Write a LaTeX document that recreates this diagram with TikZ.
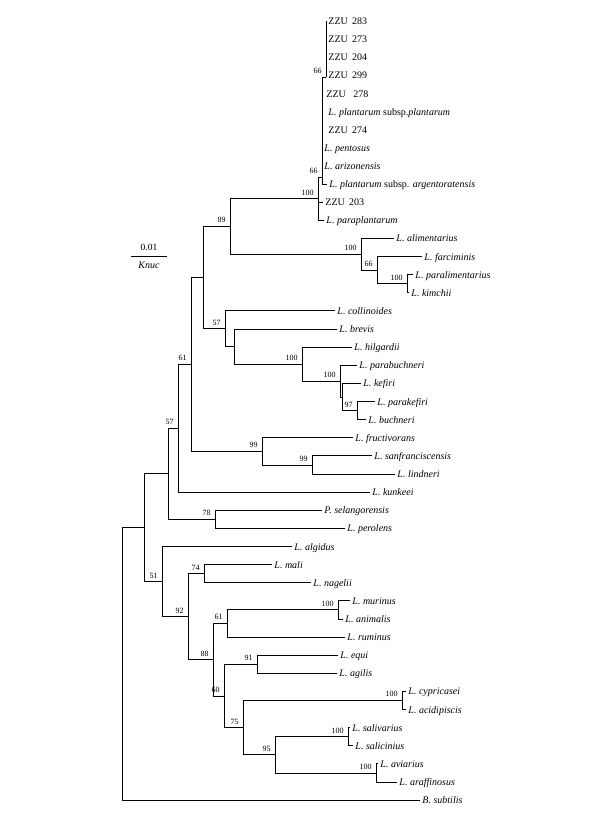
\documentclass[tikz,border=0pt]{standalone}
\usepackage{fontspec}
\setmainfont{Liberation Serif}
\usetikzlibrary{positioning}
\tikzset{
  branch/.style = {to path = {|- (\tikztotarget) \tikztonodes}},
  taxon/.style = {anchor = west, inner xsep = 2pt, inner ysep = 0pt,
    text height = 7pt, text depth = 0pt,
    font = \fontsize{10}{12}\selectfont\itshape},
  strain/.style = {taxon, font = \fontsize{10}{12}\selectfont},
  support/.style = {pos = 1, anchor = south east, inner sep = 0.5pt,
    xshift = -3.5pt, yshift = 2.5pt, font = \fontsize{8}{9}\selectfont},
  scaletext/.style = {inner sep = 0pt, font = \fontsize{9.5}{11}\selectfont},
}

\begin{document}
\begin{tikzpicture}[x = 1pt, y = -1pt, line width = 0.9pt]
    \useasboundingbox (0,0) rectangle (614,817);
    % scale bar
    \coordinate (bar0) at (131,256);
    \coordinate (bar1) at (167,256);
    \draw (bar0) -- (bar1);
    \node [scaletext] (barval) at (149,247) {0.01};
    \node [scaletext, font = \fontsize{10}{12}\selectfont\itshape] (barunit) at (149,265) {Knuc};
    % taxa
    \node [strain] (zzu283) at (326,21.0) {ZZU\ \,283};
    \node [strain] (zzu273) at (326,39.1) {ZZU\ \,273};
    \node [strain] (zzu204) at (326,57.2) {ZZU\ \,204};
    \node [strain] (zzu299) at (326,75.4) {ZZU\ \,299};
    \node [strain, inner xsep = 4pt] (zzu278) at (322,93.5) {ZZU\ \ \ 278};
    \node [taxon, inner xsep = 6pt] (plant) at (322,111.6) {L. plantarum \textup{subsp.}plantarum};
    \node [strain, inner xsep = 6pt] (zzu274) at (322,129.7) {ZZU\ \,274};
    \node [taxon] (pento) at (322,147.8) {L. pentosus};
    \node [taxon] (arizo) at (322,166.0) {L. arizonensis};
    \node [taxon] (argen) at (327,184.1) {L. plantarum \textup{subsp.} argentoratensis};
    \node [strain] (zzu203) at (323,202.2) {ZZU\ \,203};
    \node [taxon] (parapl) at (324,220.3) {L. paraplantarum};
    \node [taxon] (alim) at (394,238.4) {L. alimentarius};
    \node [taxon] (farc) at (422,256.6) {L. farciminis};
    \node [taxon] (paral) at (413,274.7) {L. paralimentarius};
    \node [taxon] (kimch) at (409,292.8) {L. kimchii};
    \node [taxon] (colli) at (335,310.9) {L. collinoides};
    \node [taxon] (brevi) at (337,329.0) {L. brevis};
    \node [taxon] (hilga) at (352,347.2) {L. hilgardii};
    \node [taxon] (parab) at (357,365.3) {L. parabuchneri};
    \node [taxon] (kefir) at (361,383.4) {L. kefiri};
    \node [taxon] (parak) at (375,401.5) {L. parakefiri};
    \node [taxon] (buchn) at (366,419.6) {L. buchneri};
    \node [taxon] (fruct) at (353,437.8) {L. fructivorans};
    \node [taxon] (sanfr) at (372,455.9) {L. sanfranciscensis};
    \node [taxon] (lindn) at (395,474.0) {L. lindneri};
    \node [taxon] (kunke) at (370,492.1) {L. kunkeei};
    \node [taxon] (selan) at (322,510.2) {P. selangorensis};
    \node [taxon] (perol) at (345,528.4) {L. perolens};
    \node [taxon] (algid) at (292,546.5) {L. algidus};
    \node [taxon] (mali) at (272,564.6) {L. mali};
    \node [taxon] (nagel) at (311,582.7) {L. nagelii};
    \node [taxon] (murin) at (350,600.8) {L. murinus};
    \node [taxon] (anima) at (343,619.0) {L. animalis};
    \node [taxon] (rumin) at (345,637.1) {L. ruminus};
    \node [taxon] (equi) at (338,655.2) {L. equi};
    \node [taxon] (agili) at (337,673.3) {L. agilis};
    \node [taxon] (cypri) at (406,691.4) {L. cypricasei};
    \node [taxon] (acidi) at (406,709.6) {L. acidipiscis};
    \node [taxon] (saliv) at (350,727.7) {L. salivarius};
    \node [taxon] (salic) at (353,745.8) {L. salicinius};
    \node [taxon] (aviar) at (378,763.9) {L. aviarius};
    \node [taxon] (araff) at (397,782.0) {L. araffinosus};
    \node [taxon] (subti) at (420,800.2) {B. subtilis};
    % internal nodes
    \coordinate (n66a) at (326,77);
    \coordinate (n66b) at (322,177);
    \coordinate (n100a) at (318,198.6);
    \coordinate (n89) at (230,226.4);
    \coordinate (n100b) at (361,254.3);
    \coordinate (n66c) at (377,270.2);
    \coordinate (n100c) at (407,283.8);
    \coordinate (npar) at (203,277.6);
    \coordinate (n57a) at (225,328.7);
    \coordinate (nbrev) at (234,346.6);
    \coordinate (n100d) at (302,364.2);
    \coordinate (n100e) at (340,381.1);
    \coordinate (nkef) at (342,397.0);
    \coordinate (n97) at (357,410.6);
    \coordinate (n61) at (191,364.5);
    \coordinate (n99a) at (262,451.4);
    \coordinate (n99b) at (312,465.0);
    \coordinate (n57b) at (178,428.3);
    \coordinate (nsel) at (168,473.8);
    \coordinate (n78) at (215,519.3);
    \coordinate (ningr) at (144,527.7);
    \coordinate (n51) at (162,581.6);
    \coordinate (n92) at (188,616.7);
    \coordinate (n74) at (204,573.7);
    \coordinate (n88) at (213,659.8);
    \coordinate (n61b) at (227,623.5);
    \coordinate (n100f) at (338,609.9);
    \coordinate (n60) at (224,696.0);
    \coordinate (n91) at (257,664.3);
    \coordinate (n75) at (243,727.7);
    \coordinate (n100g) at (402,700.5);
    \coordinate (n95) at (275,754.9);
    \coordinate (n100h) at (348,736.8);
    \coordinate (n100i) at (376,773.0);
    \coordinate (root) at (122,663.9);
    % branches
    \draw (n66a) edge [branch] (zzu283);
    \draw (n66a) edge [branch] (zzu273);
    \draw (n66a) edge [branch] (zzu204);
    \draw (n66a) edge [branch] (zzu299);
    \draw (n66b) edge [branch] node [support] (s66a) {66} (n66a);
    \draw (n66b) edge [branch] (zzu278);
    \draw (n66b) edge [branch] (plant);
    \draw (n66b) edge [branch] (zzu274);
    \draw (n66b) edge [branch] (pento);
    \draw (n66b) edge [branch] (arizo);
    \draw (n66b) edge [branch] (argen);
    \draw (n100a) edge [branch] node [support] (s66b) {66} (n66b);
    \draw (n100a) edge [branch] (zzu203);
    \draw (n100a) edge [branch] (parapl);
    \draw (n89) edge [branch] node [support] (s100a) {100} (n100a);
    \draw (n89) edge [branch] node [support] (s100b) {100} (n100b);
    \draw (n100b) edge [branch] (alim);
    \draw (n100b) edge [branch] node [support] (s66c) {66} (n66c);
    \draw (n66c) edge [branch] (farc);
    \draw (n66c) edge [branch] node [support] (s100c) {100} (n100c);
    \draw (n100c) edge [branch] (paral);
    \draw (n100c) edge [branch] (kimch);
    \draw (npar) edge [branch] node [support] (s89) {89} (n89);
    \draw (npar) edge [branch] node [support] (s57a) {57} (n57a);
    \draw (n57a) edge [branch] (colli);
    \draw (n57a) edge [branch] (nbrev);
    \draw (nbrev) edge [branch] (brevi);
    \draw (nbrev) edge [branch] node [support] (s100d) {100} (n100d);
    \draw (n100d) edge [branch] (hilga);
    \draw (n100d) edge [branch] node [support] (s100e) {100} (n100e);
    \draw (n100e) edge [branch] (parab);
    \draw (n100e) edge [branch] (nkef);
    \draw (nkef) edge [branch] (kefir);
    \draw (nkef) edge [branch] node [support] (s97) {97} (n97);
    \draw (n97) edge [branch] (parak);
    \draw (n97) edge [branch] (buchn);
    \draw (n61) edge [branch] (npar);
    \draw (n61) edge [branch] node [support] (s99a) {99} (n99a);
    \draw (n99a) edge [branch] (fruct);
    \draw (n99a) edge [branch] node [support] (s99b) {99} (n99b);
    \draw (n99b) edge [branch] (sanfr);
    \draw (n99b) edge [branch] (lindn);
    \draw (n57b) edge [branch] node [support] (s61) {61} (n61);
    \draw (n57b) edge [branch] (kunke);
    \draw (nsel) edge [branch] node [support] (s57b) {57} (n57b);
    \draw (nsel) edge [branch] node [support] (s78) {78} (n78);
    \draw (n78) edge [branch] (selan);
    \draw (n78) edge [branch] (perol);
    \draw (ningr) edge [branch] (nsel);
    \draw (ningr) edge [branch] node [support] (s51) {51} (n51);
    \draw (n51) edge [branch] (algid);
    \draw (n51) edge [branch] node [support] (s92) {92} (n92);
    \draw (n92) edge [branch] node [support] (s74) {74} (n74);
    \draw (n92) edge [branch] node [support] (s88) {88} (n88);
    \draw (n74) edge [branch] (mali);
    \draw (n74) edge [branch] (nagel);
    \draw (n88) edge [branch] node [support] (s61b) {61} (n61b);
    \draw (n88) edge [branch] node [support] (s60) {60} (n60);
    \draw (n61b) edge [branch] node [support] (s100f) {100} (n100f);
    \draw (n61b) edge [branch] (rumin);
    \draw (n100f) edge [branch] (murin);
    \draw (n100f) edge [branch] (anima);
    \draw (n60) edge [branch] node [support] (s91) {91} (n91);
    \draw (n60) edge [branch] node [support] (s75) {75} (n75);
    \draw (n91) edge [branch] (equi);
    \draw (n91) edge [branch] (agili);
    \draw (n75) edge [branch] node [support] (s100g) {100} (n100g);
    \draw (n75) edge [branch] node [support] (s95) {95} (n95);
    \draw (n100g) edge [branch] (cypri);
    \draw (n100g) edge [branch] (acidi);
    \draw (n95) edge [branch] node [support] (s100h) {100} (n100h);
    \draw (n95) edge [branch] node [support] (s100i) {100} (n100i);
    \draw (n100h) edge [branch] (saliv);
    \draw (n100h) edge [branch] (salic);
    \draw (n100i) edge [branch] (aviar);
    \draw (n100i) edge [branch] (araff);
    \draw (root) edge [branch] (ningr);
    \draw (root) edge [branch] (subti);
\end{tikzpicture}
\end{document}
